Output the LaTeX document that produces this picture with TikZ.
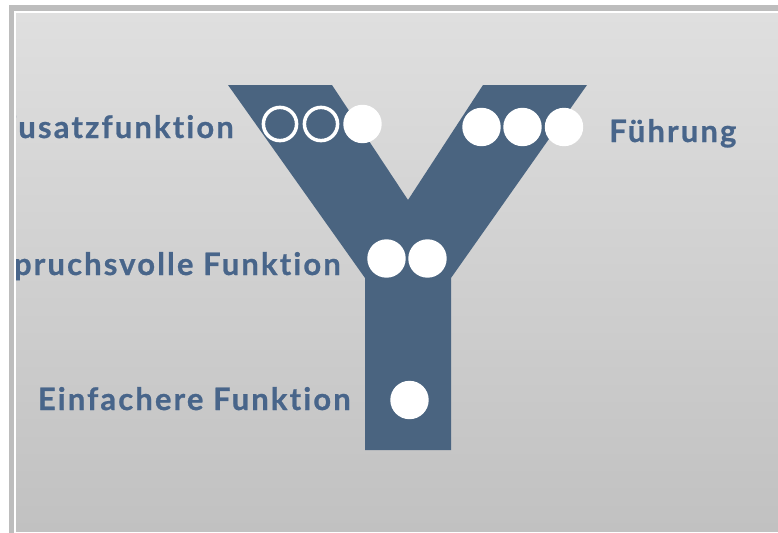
\documentclass[tikz,border=0pt]{standalone}
\usepackage{fontspec}
\newfontfamily\labelfont{Lato}[Ligatures=NoCommon, LetterSpace=7, BoldFeatures={FakeBold=0.8}]
\usepackage{tikz}
\usepackage{xcolor}

\definecolor{ydark}{HTML}{4A6480}
\definecolor{ylabel}{HTML}{48658A}
\definecolor{frame}{HTML}{BDBDBD}
\definecolor{paneltop}{HTML}{DFDFDF}
\definecolor{panelbot}{HTML}{C1C1C1}

\begin{document}
\begin{tikzpicture}[x=0.025cm, y=-0.025cm,
    lbl/.style={text=ylabel, inner sep=0pt, font=\labelfont\bfseries\fontsize{22}{26}\selectfont},
    dot/.style={circle, fill=white, inner sep=0pt, minimum size=0.96cm},
    ring/.style={circle, draw=white, line width=2.5pt, inner sep=0pt, minimum size=0.83cm}]
    \clip (0,0) rectangle (778,533);
    \fill[white] (0,0) rectangle (778,533);

    % Frame
    \fill[frame] (9,5) rectangle (800,560);
    \fill[white] (14,11) rectangle (800,533);
    \shade[top color=paneltop, bottom color=panelbot] (16,13) rectangle (800,531);

    \begin{scope}
    \clip (16,13) rectangle (800,531);

    % Y
    \fill[fill=ydark] (228,85) -- (332,85) -- (408,200) -- (483,85) -- (587,85)
        -- (451,278) -- (451,450) -- (365,450) -- (365,278) -- cycle;

    % Zusatzfunktion
    \node[ring] (zusatz1) at (280,124) {};
    \node[ring] (zusatz2) at (321,124) {};
    \node[dot] (zusatz3) at (362.5,124) {};
    \node[lbl, anchor=base east] (zusatz) at (234,138) {Zusatzfunktion};

    % Fuehrung
    \node[dot] (fuehr1) at (481.5,127) {};
    \node[dot] (fuehr2) at (522.5,127) {};
    \node[dot] (fuehr3) at (564,127) {};
    \node[lbl, anchor=base west] (fuehrung) at (609,142) {Führung};

    % Anspruchsvolle Funktion
    \node[dot] (anspr1) at (386.5,258.5) {};
    \node[dot] (anspr2) at (427.5,258.5) {};
    \node[lbl, anchor=base east] (anspruch) at (341,275) {Anspruchsvolle Funktion};

    % Einfachere Funktion
    \node[dot] (einf1) at (409.5,400) {};
    \node[lbl, anchor=base east] (einfach) at (351,410) {Einfachere Funktion};
    \end{scope}
\end{tikzpicture}
\end{document}
